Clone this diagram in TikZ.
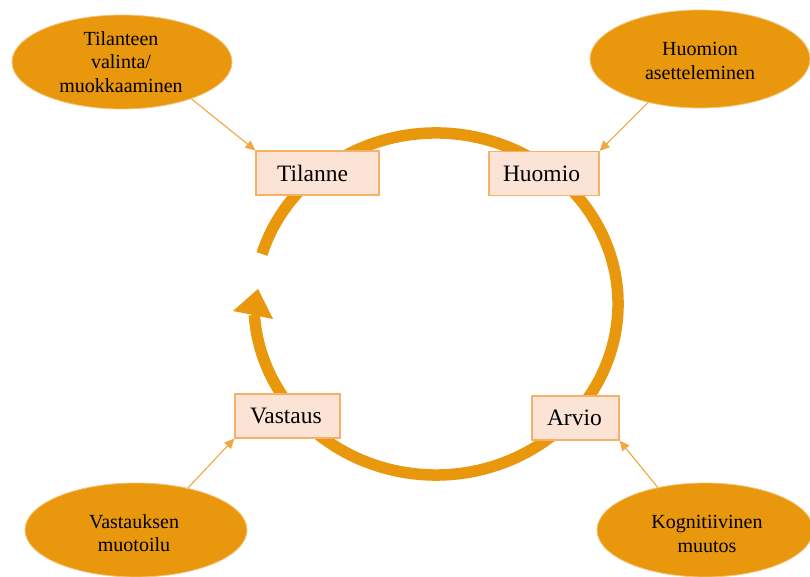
\documentclass[tikz,border=0pt]{standalone}
\usepackage{fontspec}
\setmainfont{Liberation Serif}
\usetikzlibrary{shapes.geometric,arrows.meta}

\definecolor{ringorange}{RGB}{233,151,13}
\definecolor{boxfill}{RGB}{251,227,214}
\definecolor{boxline}{RGB}{245,178,102}
\definecolor{linkline}{RGB}{241,168,66}
\definecolor{ovalline}{RGB}{246,196,120}

\tikzset{
  stage/.style={draw=boxline, line width=1.2pt, fill=boxfill, minimum height=44pt,
    inner xsep=15pt, inner ysep=0pt, align=left, font=\fontsize{23.5}{26}\selectfont},
  oval/.style={ellipse, fill=ringorange, draw=ovalline, line width=0.8pt, inner sep=0pt},
  ovaltext/.style={align=center, inner sep=0pt, font=\fontsize{20}{23.5}\selectfont},
  link/.style={draw=linkline, line width=1.1pt, -{Triangle[length=10pt,width=9pt]}},
  ring/.style={draw=ringorange, line width=11.5pt},
}

\begin{document}
\begin{tikzpicture}[x=1pt,y=1pt]
\useasboundingbox (0,0) rectangle (810,577);
\fill[white] (0,0) rectangle (810,577);

% the cycle: a thick arc with a wide arrowhead at its end
\coordinate (c) at (436,273);
\draw[ring] (c) ++(163:182 and 171) arc[start angle=163, end angle=-176.3, x radius=182, y radius=171];
\coordinate (tipA) at (258,288);
\coordinate (tipL) at (233,266);
\coordinate (tipR) at (273,258);
\fill[ringorange] (tipA) -- (tipL) -- (tipR) -- cycle;

% the four stages on the cycle
\node[stage, minimum width=123pt, text width=81pt, inner xsep=21pt] (tilanne) at (317.5,404) {Tilanne};
\node[stage, minimum width=110pt, text width=82pt, inner xsep=14pt] (huomio) at (544,403.5) {Huomio};
\node[stage, minimum width=105pt, text width=75pt] (vastaus) at (287.5,161) {Vastaus};
\node[stage, minimum width=87pt, text width=57pt] (arvio) at (575.5,159) {Arvio};

% the four strategies
\node[oval, minimum width=220pt, minimum height=94pt] (tl) at (122,515) {};
\node[oval, minimum width=220pt, minimum height=98pt] (tr) at (700,518) {};
\node[oval, minimum width=222pt, minimum height=94pt] (bl) at (136,47) {};
\node[oval, minimum width=216pt, minimum height=94pt] (br) at (705,47) {};

\node[ovaltext] (tltext) at (121,515) {Tilanteen\\valinta/\\muokkaaminen};
\node[ovaltext] (trtext) at (700,516) {Huomion\\asetteleminen};
\node[ovaltext] (bltext) at (134,44) {Vastauksen\\muotoilu};
\node[ovaltext] (brtext) at (707,43) {Kognitiivinen\\muutos};

% links from each strategy to its stage
\draw[link] (tl.-28) -- (tilanne.north west);
\draw[link] (tr.220) -- (huomio.north east);
\draw[link] (bl.39) -- (vastaus.south west);
\draw[link] (br.138) -- (arvio.south east);
\end{tikzpicture}
\end{document}
